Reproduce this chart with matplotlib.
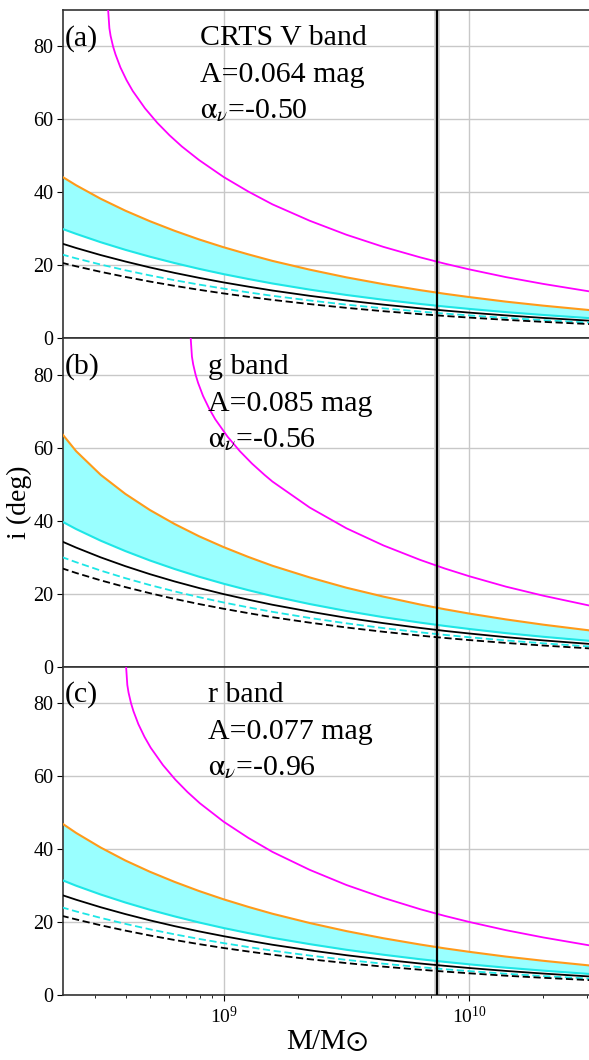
import matplotlib
matplotlib.use('Agg')
import matplotlib.pyplot as plt

plt.rcParams['font.family'] = ['Liberation Serif', 'DejaVu Serif']
plt.rcParams['mathtext.fontset'] = 'stix'

# common mass grid (M/Msun)
mass = [2.19e8, 2.51e8, 3.16e8, 3.98e8, 5.01e8, 6.31e8, 7.94e8, 1.0e9, 1.26e9, 1.58e9,
        2.24e9, 3.16e9, 4.47e9, 6.31e9, 7.94e9, 1.0e10, 1.41e10, 2.0e10, 3.16e10]

# panel (a) CRTS V band
a_orange = [44.4, 41.95, 38.25, 34.99, 32.10, 29.48, 27.11, 24.96, 23.01, 21.22,
            18.82, 16.71, 14.85, 13.20, 12.21, 11.30, 10.05, 8.95, 7.67]
a_cyan = [30.08, 28.63, 26.34, 24.26, 22.37, 20.64, 19.05, 17.59, 16.26, 15.03,
          13.35, 11.88, 10.57, 9.41, 8.71, 8.06, 7.18, 6.40, 5.48]
a_black = [26.01, 24.76, 22.82, 21.06, 19.43, 17.94, 16.58, 15.32, 14.17, 13.10,
           11.65, 10.37, 9.23, 8.22, 7.61, 7.04, 6.28, 5.59, 4.79]
a_cyan_dash = [23.01, 21.91, 20.22, 18.66, 17.24, 15.93, 14.73, 13.62, 12.59, 11.65,
               10.37, 9.23, 8.22, 7.32, 6.78, 6.28, 5.59, 4.98, 4.27]
a_black_dash = [20.72, 19.74, 18.22, 16.84, 15.56, 14.39, 13.30, 12.30, 11.38, 10.53,
                9.38, 8.35, 7.43, 6.63, 6.13, 5.68, 5.06, 4.51, 3.87]
a_mag_mass = [3.388e8, 3.428e8, 3.467e8, 3.548e8, 3.631e8, 3.802e8, 4.027e8, 4.266e8,
              4.786e8, 5.370e8, 6.026e8, 6.761e8, 7.94e8, 1.0e9, 1.26e9, 1.58e9,
              2.24e9, 3.16e9, 4.47e9, 6.31e9, 7.94e9, 1.0e10, 1.41e10, 2.0e10, 3.16e10]
a_magenta = [90.0, 84.99, 82.9, 80.0, 77.8, 74.24, 70.75, 67.8, 63.04, 59.07, 55.63,
             52.58, 48.87, 44.22, 40.23, 36.72, 32.23, 28.39, 25.06, 22.19, 20.47,
             18.89, 16.77, 14.91, 12.74]

# panel (b) g band
b_orange = [64.0, 59.07, 52.58, 47.36, 42.94, 39.12, 35.75, 32.77, 30.08, 27.66,
            24.46, 21.64, 19.20, 17.03, 15.74, 14.55, 12.95, 11.51, 9.85]
b_cyan = [39.86, 37.72, 34.53, 31.69, 29.11, 26.78, 24.66, 22.73, 20.97, 19.35,
          17.17, 15.26, 13.56, 12.07, 11.17, 10.33, 9.19, 8.19, 7.02]
b_black = [34.37, 32.64, 29.96, 27.55, 25.36, 23.37, 21.56, 19.89, 18.36, 16.97,
           15.09, 13.40, 11.93, 10.61, 9.81, 9.09, 8.09, 7.20, 6.18]
b_cyan_dash = [30.08, 28.63, 26.34, 24.26, 22.37, 20.64, 19.05, 17.59, 16.26, 15.03,
               13.35, 11.88, 10.57, 9.41, 8.71, 8.06, 7.18, 6.40, 5.48]
b_black_dash = [27.0, 25.68, 23.66, 21.82, 20.14, 18.58, 17.17, 15.87, 14.67, 13.56,
                12.07, 10.74, 9.56, 8.51, 7.87, 7.29, 6.50, 5.79, 4.96]
b_mag_mass = [7.345e8, 7.430e8, 7.516e8, 7.691e8, 7.870e8, 8.241e8, 8.730e8, 9.247e8,
              1.0375e9, 1.164e9, 1.306e9, 1.466e9, 1.58e9, 2.24e9, 3.16e9, 4.47e9,
              6.31e9, 7.94e9, 1.0e10, 1.41e10, 2.0e10, 3.16e10]
b_magenta = [90.0, 84.99, 82.9, 80.0, 77.8, 74.24, 70.75, 67.8, 63.04, 59.07, 55.63,
             52.58, 50.74, 43.62, 37.93, 33.23, 29.26, 26.91, 24.78, 21.93, 19.45, 16.59]

# panel (c) r band
c_orange = [47.13, 44.43, 40.42, 36.88, 33.79, 31.02, 28.51, 26.23, 24.16, 22.28,
            19.74, 17.52, 15.56, 13.84, 12.79, 11.84, 10.53, 9.38, 8.03]
c_cyan = [31.56, 29.96, 27.55, 25.36, 23.37, 21.56, 19.89, 18.36, 16.97, 15.68,
          13.95, 12.40, 11.04, 9.81, 9.09, 8.41, 7.49, 6.68, 5.72]
c_black = [27.44, 26.12, 24.06, 22.19, 20.47, 18.89, 17.45, 16.13, 14.91, 13.78,
           12.25, 10.91, 9.70, 8.64, 8.00, 7.40, 6.60, 5.88, 5.04]
c_cyan_dash = [24.06, 22.91, 21.14, 19.51, 18.01, 16.64, 15.38, 14.22, 13.15, 12.16,
               10.82, 9.63, 8.58, 7.64, 7.07, 6.55, 5.83, 5.19, 4.46]
c_black_dash = [21.73, 20.72, 19.12, 17.66, 16.32, 15.09, 13.95, 12.89, 11.93, 11.04,
                9.81, 8.75, 7.78, 6.94, 6.43, 5.95, 5.29, 4.72, 4.05]
c_mag_mass = [4.009e8, 4.055e8, 4.102e8, 4.198e8, 4.295e8, 4.498e8, 4.764e8, 5.047e8,
              5.662e8, 6.353e8, 7.129e8, 7.998e8, 1.0e9, 1.26e9, 1.58e9, 2.24e9,
              3.16e9, 4.47e9, 6.31e9, 7.94e9, 1.0e10, 1.41e10, 2.0e10, 3.16e10]
c_magenta = [90.0, 84.99, 82.9, 80.0, 77.8, 74.24, 70.75, 67.8, 63.04, 59.07, 55.63,
             52.58, 47.51, 43.07, 39.23, 34.31, 30.16, 26.63, 23.52, 21.69, 20.02,
             17.77, 15.78, 13.48]

panel_tags = ['(a)', '(b)', '(c)']
band_names = ['CRTS V band', 'g band', 'r band']
amplitudes = ['A=0.064 mag', 'A=0.085 mag', 'A=0.077 mag']
alphas = [r'$\mathrm{\alpha}_{\nu}$=-0.50', r'$\mathrm{\alpha}_{\nu}$=-0.56',
          r'$\mathrm{\alpha}_{\nu}$=-0.96']

m_line = 7.4e9
m_band = (7.2e9, 7.6e9)

panels = [
    (a_orange, a_cyan, a_black, a_cyan_dash, a_black_dash, a_mag_mass, a_magenta),
    (b_orange, b_cyan, b_black, b_cyan_dash, b_black_dash, b_mag_mass, b_magenta),
    (c_orange, c_cyan, c_black, c_cyan_dash, c_black_dash, c_mag_mass, c_magenta),
]

fig, axes = plt.subplots(3, 1, figsize=(5.89, 10.6), dpi=100, sharex=True)
fig.subplots_adjust(left=0.107, right=1.003, bottom=0.0613, top=0.9906, hspace=0)

for k, (ax, p) in enumerate(zip(axes, panels)):
    orange, cyan, black, cyan_d, black_d, mmass, magenta = p
    ax.fill_between(mass, cyan, orange, color='#99ffff', lw=0, zorder=2)
    ax.plot(mass, orange, color='#ff9a1a', lw=1.5, zorder=3)
    ax.plot(mass, cyan, color='#1ee6e6', lw=1.5, zorder=3)
    ax.plot(mass, black, color='black', lw=1.3, zorder=3)
    ax.plot(mass, cyan_d, color='#1ee6e6', lw=1.3, ls=(0, (4, 2)), zorder=3)
    ax.plot(mass, black_d, color='black', lw=1.3, ls=(0, (4, 2)), zorder=3)
    ax.plot(mmass, magenta, color='#ff00ff', lw=1.3, zorder=3)

    ax.axvspan(m_band[0], m_band[1], color='0.84', lw=0, zorder=1)
    ax.axvline(m_line, color='black', lw=1.6, zorder=4)

    ax.set_xscale('log')
    ax.set_xlim(2.22e8, 3.12e10)
    ax.set_ylim(0, 90)
    ax.set_yticks([0, 20, 40, 60, 80])
    ax.grid(True, which='major', color='#c8c8c8', lw=1.0, zorder=0)
    ax.set_axisbelow(True)
    ax.spines['right'].set_visible(False)
    for s in ['top', 'bottom', 'left']:
        ax.spines[s].set_linewidth(1.2)
        ax.spines[s].set_color('#333333')
    ax.tick_params(axis='y', labelsize=14.5, direction='out', length=4, pad=3)

    tx = 0.26 if k == 0 else 0.274
    ax.text(0.004, 0.892, panel_tags[k], transform=ax.transAxes, fontsize=21.5, va='baseline')
    ax.text(tx, 0.892, band_names[k], transform=ax.transAxes, fontsize=21.5, va='baseline')
    ax.text(tx, 0.780, amplitudes[k], transform=ax.transAxes, fontsize=21.5, va='baseline')
    ax.text(tx, 0.670, alphas[k], transform=ax.transAxes, fontsize=21.5, va='baseline')

for ax in axes[:2]:
    ax.tick_params(axis='x', which='both', bottom=False, labelbottom=False)

axes[2].tick_params(axis='x', which='major', labelsize=14, direction='out', length=4)
axes[2].tick_params(axis='x', which='minor', direction='out', length=2.5)
axes[2].set_xlabel(r'M/M$\odot$', fontsize=21, labelpad=2)
axes[1].set_ylabel('i (deg)', fontsize=20)
axes[1].yaxis.set_label_coords(-0.058, 0.5)

fig.savefig('out.png', dpi=100)
